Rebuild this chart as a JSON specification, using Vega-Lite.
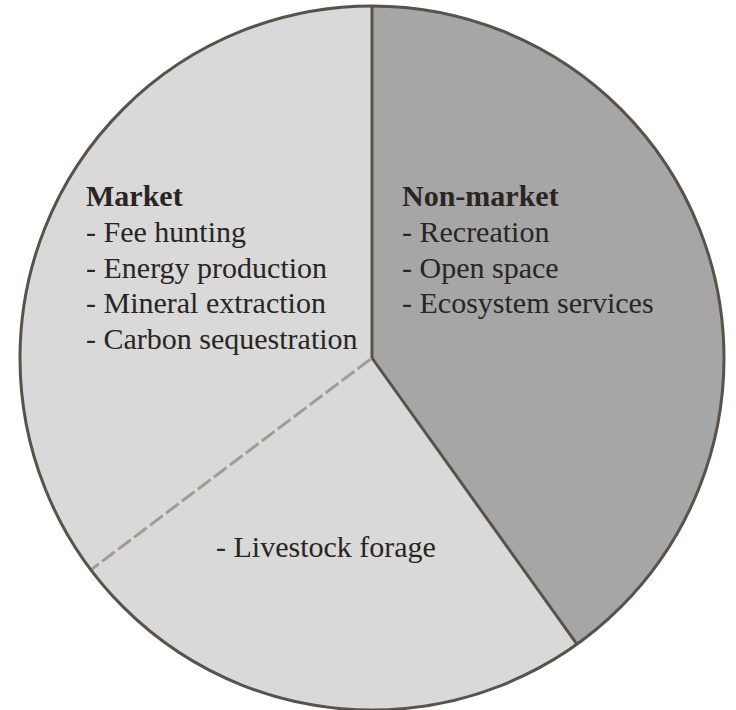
{
  "$schema": "https://vega.github.io/schema/vega-lite/v6.json",
  "autosize": {"type": "fit", "contains": "padding"},
  "width": 736,
  "height": 710,
  "padding": {"left": 8, "top": 6, "right": 0, "bottom": 0},
  "background": "white",
  "config": {"view": {"stroke": null}},
  "datasets": {
    "slices": [
      {"category": "Non-market", "start": 0, "end": 144.4},
      {"category": "Livestock forage", "start": 144.4, "end": 233},
      {"category": "Market", "start": 233, "end": 360}
    ],
    "solidEdges": [
      {"edge": "Non-market / Market", "angle": 0},
      {"edge": "Non-market / Livestock forage", "angle": 144.4}
    ],
    "dashedEdges": [
      {"edge": "Livestock forage / Market", "angle": 233}
    ],
    "outline": [
      {"start": 0, "end": 360}
    ],
    "labels": [
      {"text": "Market", "kind": "heading", "x": 78, "y": 199},
      {"text": "- Fee hunting", "kind": "item", "x": 78, "y": 235},
      {"text": "- Energy production", "kind": "item", "x": 78, "y": 271},
      {"text": "- Mineral extraction", "kind": "item", "x": 78, "y": 307},
      {"text": "- Carbon sequestration", "kind": "item", "x": 78, "y": 343},
      {"text": "Non-market", "kind": "heading", "x": 394, "y": 199},
      {"text": "- Recreation", "kind": "item", "x": 394, "y": 235},
      {"text": "- Open space", "kind": "item", "x": 394, "y": 271},
      {"text": "- Ecosystem services", "kind": "item", "x": 394, "y": 307},
      {"text": "- Livestock forage", "kind": "item", "x": 208, "y": 553}
    ]
  },
  "layer": [
    {
      "data": {"name": "slices"},
      "mark": {"type": "arc", "outerRadius": 352, "stroke": null},
      "encoding": {
        "theta": {"field": "start", "type": "quantitative", "stack": null, "scale": {"domain": [0, 360], "range": [0, 6.283185307179586]}},
        "theta2": {"field": "end"},
        "color": {"field": "category", "type": "nominal", "legend": null,
          "scale": {"domain": ["Non-market", "Livestock forage", "Market"], "range": ["#a6a6a6", "#d9d9d9", "#d9d9d9"]}}
      }
    },
    {
      "data": {"name": "dashedEdges"},
      "mark": {"type": "arc", "outerRadius": 352, "filled": false, "stroke": "#a59c8f", "strokeWidth": 3, "strokeDash": [12, 8], "strokeDashOffset": 6},
      "encoding": {
        "theta": {"field": "angle", "type": "quantitative", "stack": null, "scale": {"domain": [0, 360], "range": [0, 6.283185307179586]}},
        "theta2": {"field": "angle"}
      }
    },
    {
      "data": {"name": "solidEdges"},
      "mark": {"type": "arc", "outerRadius": 352, "filled": false, "stroke": "#5a5149", "strokeWidth": 3},
      "encoding": {
        "theta": {"field": "angle", "type": "quantitative", "stack": null, "scale": {"domain": [0, 360], "range": [0, 6.283185307179586]}},
        "theta2": {"field": "angle"}
      }
    },
    {
      "data": {"name": "outline"},
      "mark": {"type": "arc", "outerRadius": 352, "filled": false, "stroke": "#5a5149", "strokeWidth": 3},
      "encoding": {
        "theta": {"field": "start", "type": "quantitative", "stack": null, "scale": {"domain": [0, 360], "range": [0, 6.283185307179586]}},
        "theta2": {"field": "end"}
      }
    },
    {
      "data": {"name": "labels"},
      "transform": [{"filter": "datum.kind === 'heading'"}],
      "mark": {"type": "text", "font": "Liberation Serif", "fontSize": 30, "fontWeight": "bold", "align": "left", "baseline": "alphabetic", "color": "#2a2522"},
      "encoding": {
        "x": {"field": "x", "type": "quantitative", "axis": null, "scale": {"domain": [0, 728], "nice": false, "zero": false}},
        "y": {"field": "y", "type": "quantitative", "axis": null, "scale": {"domain": [0, 704], "nice": false, "zero": false, "reverse": true}},
        "text": {"field": "text"}
      }
    },
    {
      "data": {"name": "labels"},
      "transform": [{"filter": "datum.kind === 'item'"}],
      "mark": {"type": "text", "font": "Liberation Serif", "fontSize": 30, "align": "left", "baseline": "alphabetic", "color": "#2a2522"},
      "encoding": {
        "x": {"field": "x", "type": "quantitative", "axis": null, "scale": {"domain": [0, 728], "nice": false, "zero": false}},
        "y": {"field": "y", "type": "quantitative", "axis": null, "scale": {"domain": [0, 704], "nice": false, "zero": false, "reverse": true}},
        "text": {"field": "text"}
      }
    }
  ]
}
